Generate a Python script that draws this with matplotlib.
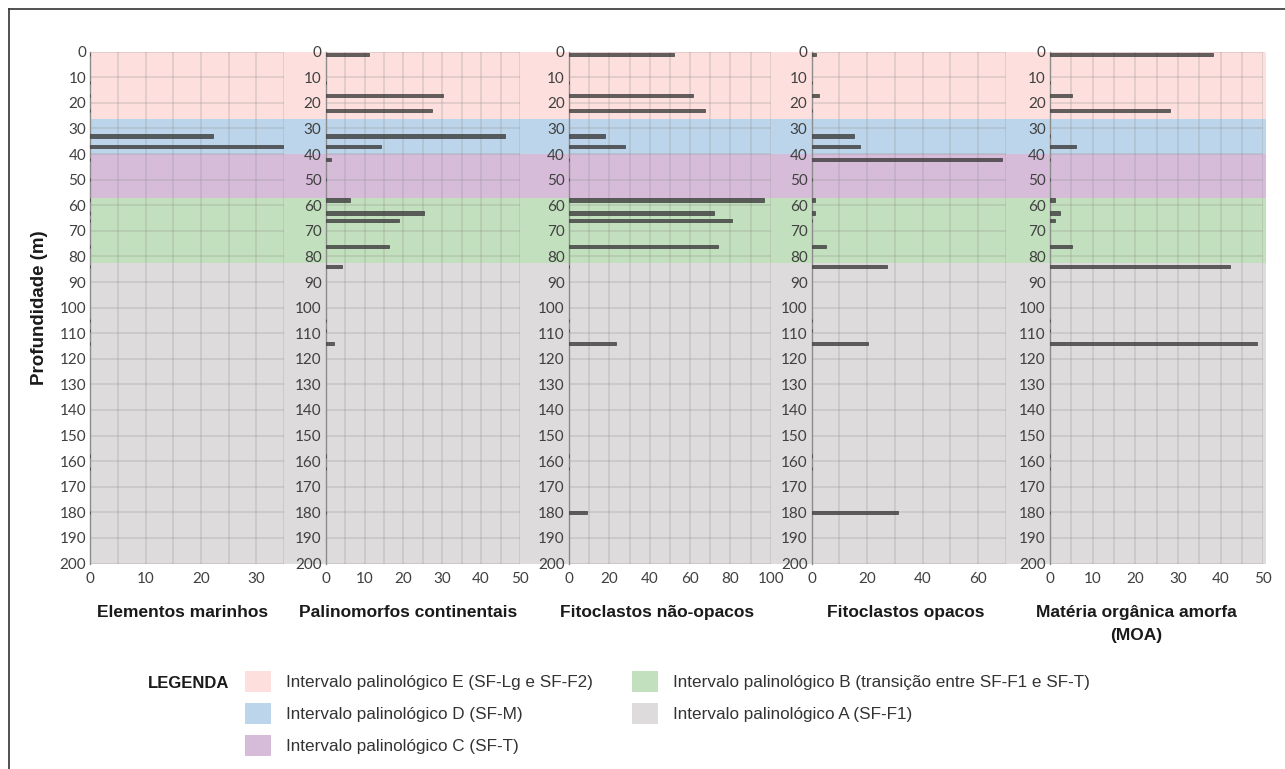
import numpy as np
import matplotlib
matplotlib.use('Agg')
from matplotlib import pyplot as plt
from matplotlib.patches import Patch
from matplotlib.lines import Line2D

# sample depths (m) shared by every panel
depths = [1, 12, 17, 23, 33, 37, 42, 50, 58, 63, 66, 76, 84, 105, 109, 114, 158, 163, 180]

marinhos = [0, 0, 0, 0, 22.2, 34.9, 0, 0, 0, 0, 0, 0, 0, 0, 0, 0, 0, 0, 0]
continentais = [11.1, 0, 30.3, 27.4, 46.2, 14.2, 1.3, 0, 6.3, 25.4, 18.9, 16.3, 4.3, 0, 0, 2.2, 0, 0, 0]
nao_opacos = [52.2, 0, 61.6, 67.4, 17.9, 27.8, 0, 0, 96.5, 72.0, 80.8, 73.7, 0, 0, 0, 23.2, 0, 0, 8.9]
opacos = [1.4, 0, 2.6, 0, 15.4, 17.4, 68.6, 0, 1.2, 1.2, 0, 5.3, 27.1, 0, 0, 20.3, 0, 0, 31.3]
moa = [38.3, 0, 5.1, 28.2, 0, 6.0, 0, 0, 1.2, 2.3, 1.2, 5.2, 42.3, 0, 0, 48.6, 0, 0, 0]

titles = ['Elementos marinhos', 'Palinomorfos continentais', 'Fitoclastos não-opacos',
          'Fitoclastos opacos', 'Matéria orgânica amorfa\n(MOA)']
series = [marinhos, continentais, nao_opacos, opacos, moa]
xmax = [35, 50, 100, 70, 50]
label_step = [10, 10, 20, 20, 10]
grid_step = [5, 5, 10, 10, 5]

# palynological intervals (top, base) in m
interval_names = ['Intervalo palinológico E (SF-Lg e SF-F2)',
                  'Intervalo palinológico D (SF-M)',
                  'Intervalo palinológico C (SF-T)',
                  'Intervalo palinológico B (transição entre SF-F1 e SF-T)',
                  'Intervalo palinológico A (SF-F1)']
interval_top = [0, 26.3, 40, 57.3, 82.7]
interval_base = [26.3, 40, 57.3, 82.7, 200]
interval_colors = ['#fde0de', '#bcd5ea', '#d6bcd9', '#c2e0bd', '#dddbdc']

W, H = 1285, 769
fig = plt.figure(figsize=(W / 100, H / 100), dpi=100)


def px_axes(x0, x1, y0, y1, **kw):
    # axes from pixel box (top-left origin)
    return fig.add_axes([x0 / W, 1 - y1 / H, (x1 - x0) / W, (y1 - y0) / H], **kw)


top_px, bot_px = 51.7, 563.5

# coloured interval bands behind all panels
bg = px_axes(90.3, 1266, top_px, bot_px)
for t, b, c in zip(interval_top, interval_base, interval_colors):
    bg.axhspan(t, b, color=c, lw=0)
bg.set_ylim(200, 0)
bg.set_xlim(0, 1)
bg.axis('off')

panel_px = [(90.3, 284), (325.7, 520), (569, 770.7), (811.7, 1005.7), (1050, 1263.3)]
tick_font = dict(family=['Lato', 'DejaVu Sans'], size=11, color='#404040')

for (x0, x1), vals, xm, ls, gs in zip(panel_px, series, xmax, label_step, grid_step):
    ax = px_axes(x0, x1, top_px, bot_px)
    ax.patch.set_alpha(0)
    ax.barh(depths, vals, height=1.3, color='#3c3c3c', edgecolor='#3c3c3c',
            linewidth=0.6, alpha=0.8, zorder=3)
    ax.set_xlim(0, xm)
    ax.set_ylim(200, 0)
    ax.set_xticks(np.arange(0, xm + 1, ls))
    ax.set_xticks(np.arange(0, xm + 1, gs), minor=True)
    ax.set_yticks(np.arange(0, 201, 10))
    ax.grid(True, which='both', color='#909090', alpha=0.3, lw=1.1, zorder=1)
    ax.tick_params(which='both', length=0)
    ax.tick_params(axis='x', pad=6)
    ax.tick_params(axis='y', pad=3)
    for lab in ax.get_xticklabels() + ax.get_yticklabels():
        lab.set_fontfamily(tick_font['family'])
        lab.set_fontsize(tick_font['size'])
        lab.set_color(tick_font['color'])
    for s in ['top', 'right', 'bottom']:
        ax.spines[s].set_visible(False)
    ax.spines['left'].set_color('#8c8c8c')
    ax.spines['left'].set_linewidth(1)

title_x = [182.5, 408, 657, 905.5, 1136.5]
for tx, t in zip(title_x, titles):
    fig.text(tx / W, 1 - 605 / H, t, ha='center', va='top', fontsize=12.5,
             fontweight='bold', family='Liberation Sans', linespacing=1.7, color='#1a1a1a')

fig.text(40 / W, 1 - 308 / H, 'Profundidade (m)', rotation=90, ha='center', va='center',
         fontsize=13.5, fontweight='bold', family='Liberation Sans', color='#1a1a1a')

# legend
fig.text(148 / W, 1 - 684 / H, 'LEGENDA', ha='left', va='center', fontsize=12,
         fontweight='bold', family='Liberation Sans', color='#1a1a1a')
handles = [Patch(facecolor=c, edgecolor='none') for c in interval_colors]
fig.legend(handles, interval_names, loc='upper left',
           bbox_to_anchor=(245 / W, 1 - 671 / H), ncol=2, frameon=False,
           borderpad=0, borderaxespad=0, handlelength=1.5, handleheight=1.5,
           handletextpad=0.9, labelspacing=0.65, columnspacing=2.3,
           prop={'family': 'Liberation Sans', 'size': 12.3}, labelcolor='#333333')

# outer frame (left and top edges visible)
fig.add_artist(Line2D([9 / W, 9 / W], [0, 1 - 9 / H], color='#333333', lw=1.2))
fig.add_artist(Line2D([9 / W, 1], [1 - 9 / H, 1 - 9 / H], color='#333333', lw=1.2))

fig.savefig('out.png', dpi=100, facecolor='white')
